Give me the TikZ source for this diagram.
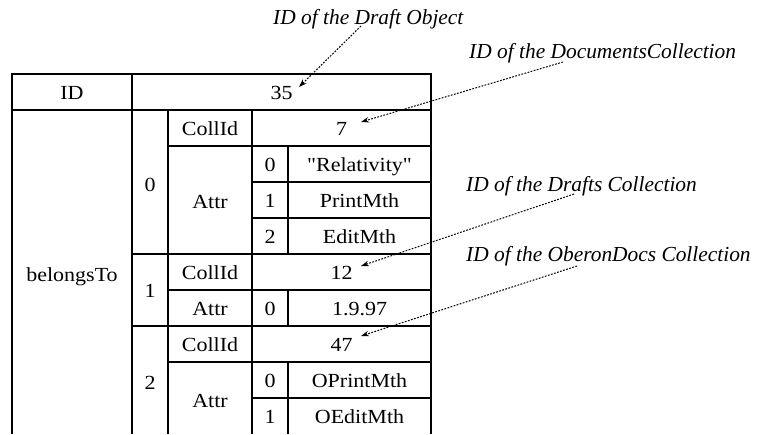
\documentclass[tikz,border=0pt]{standalone}
\usepackage{fontspec}
\setmainfont{Liberation Serif}
\newfontfamily\cellfont[FakeStretch=1.1]{Liberation Serif}
\usetikzlibrary{arrows.meta}
\begin{document}
\begin{tikzpicture}[x=1pt,y=-1pt,
  cell/.style={anchor=base, inner sep=0pt, font=\cellfont\fontsize{20}{22}\selectfont},
  lbl/.style={anchor=base west, inner sep=0pt, font=\itshape\fontsize{21.4}{23}\selectfont},
  grid/.style={line width=1.2pt},
  ptr/.style={line width=1pt, dash pattern=on 1.8pt off 1.4pt, -{Stealth[length=8pt,width=5.5pt]}}
]
\useasboundingbox (0,0) rectangle (760,434);
% table grid
\draw[grid] (12,434) -- (12,74) -- (431,74) -- (431,434);
\draw[grid] (12,110) -- (431,110);
\draw[grid] (132,74) -- (132,434);
\draw[grid] (168,110) -- (168,434);
\draw[grid] (252,110) -- (252,434);
\draw[grid] (288,146) -- (288,254);
\draw[grid] (288,290) -- (288,326);
\draw[grid] (288,362) -- (288,434);
\draw[grid] (168,146) -- (431,146);
\draw[grid] (252,182) -- (431,182);
\draw[grid] (252,218) -- (431,218);
\draw[grid] (132,254) -- (431,254);
\draw[grid] (168,290) -- (431,290);
\draw[grid] (132,326) -- (431,326);
\draw[grid] (168,362) -- (431,362);
\draw[grid] (252,398) -- (431,398);
% cells
\node[cell] (id) at (72,99) {ID};
\node[cell] (v35) at (281.5,99) {35};
\node[cell] (bt) at (72,281) {belongsTo};
\node[cell] (i0) at (150,191) {0};
\node[cell] (i1) at (150,297) {1};
\node[cell] (i2) at (150,389) {2};
\node[cell] (c0) at (210,135) {CollId};
\node[cell] (v7) at (341.5,135) {7};
\node[cell] (a0) at (210,208) {Attr};
\node[cell] (a00) at (270,171) {0};
\node[cell] (a00v) at (359.5,171) {"Relativity"};
\node[cell] (a01) at (270,207) {1};
\node[cell] (a01v) at (359.5,207) {PrintMth};
\node[cell] (a02) at (270,243) {2};
\node[cell] (a02v) at (359.5,243) {EditMth};
\node[cell] (c1) at (210,279) {CollId};
\node[cell] (v12) at (341.5,279) {12};
\node[cell] (a1) at (210,315) {Attr};
\node[cell] (a10) at (270,315) {0};
\node[cell] (a10v) at (359.5,315) {1.9.97};
\node[cell] (c2) at (210,351) {CollId};
\node[cell] (v47) at (341.5,351) {47};
\node[cell] (a2) at (210,407) {Attr};
\node[cell] (a20) at (270,387) {0};
\node[cell] (a20v) at (359.5,387) {OPrintMth};
\node[cell] (a21) at (270,423) {1};
\node[cell] (a21v) at (359.5,423) {OEditMth};
% labels
\node[lbl] (l1) at (273,24) {ID of the Draft Object};
\node[lbl] (l2) at (469,58) {ID of the DocumentsCollection};
\node[lbl] (l3) at (466,191) {ID of the Drafts Collection};
\node[lbl] (l4) at (466,261) {ID of the OberonDocs Collection};
% pointer ends
\coordinate (s1) at (361,26);
\coordinate (t1) at (299,87);
\coordinate (s2) at (563,62);
\coordinate (t2) at (361,122);
\coordinate (s3) at (574,194);
\coordinate (t3) at (361,266);
\coordinate (s4) at (577,266);
\coordinate (t4) at (361,336);
\draw[ptr] (s1) -- (t1);
\draw[ptr] (s2) -- (t2);
\draw[ptr] (s3) -- (t3);
\draw[ptr] (s4) -- (t4);
\end{tikzpicture}
\end{document}
